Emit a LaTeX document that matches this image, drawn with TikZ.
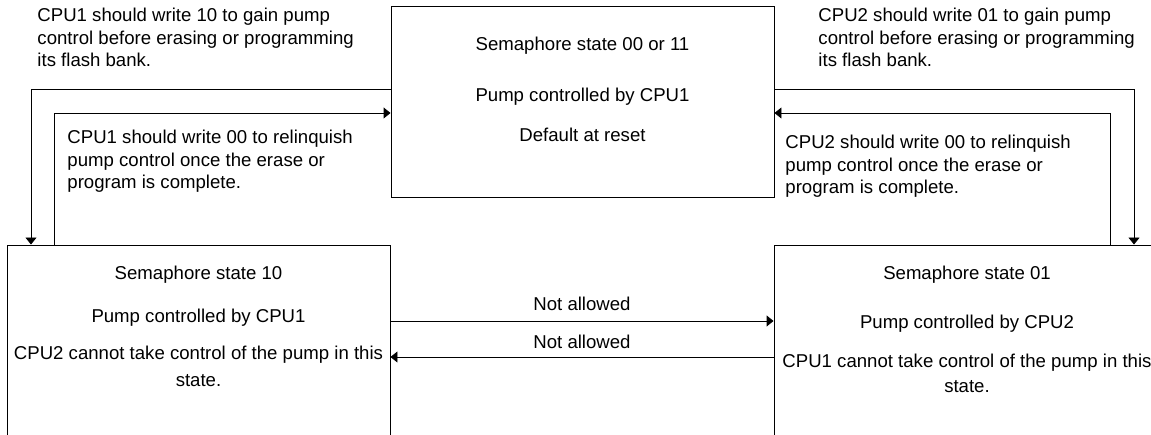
\documentclass[tikz,border=0pt]{standalone}
\usepackage{fontspec}
\setmainfont{Liberation Sans}
\usetikzlibrary{arrows.meta}
\begin{document}
\begin{tikzpicture}[x=1pt,y=-1pt,line width=0.9pt,>={Triangle[length=7pt,width=11pt]},
	state/.style={draw,minimum width=383pt,inner sep=0pt},
	txt/.style={font=\fontsize{18.6}{22.5}\selectfont,inner sep=0pt},
	note/.style={txt,align=left,anchor=base west}]
	\useasboundingbox (0,0) rectangle (1151,435);
	\clip (0,0) rectangle (1151,435);
	% the three states
	\node[state,minimum height=191pt] (s00) at (582.5,101.5) {};
	\node[state,minimum height=200pt] (s10) at (198.5,345) {};
	\node[state,minimum height=200pt] (s01) at (965.5,345) {};
	\node[txt,anchor=base] (s00a) at (582.5,51) {Semaphore state 00 or 11};
	\node[txt,anchor=base] (s00b) at (582.5,102) {Pump controlled by CPU1};
	\node[txt,anchor=base] (s00c) at (582.5,142) {Default at reset};
	\node[txt,anchor=base] (s10a) at (198.5,280) {Semaphore state 10};
	\node[txt,anchor=base] (s10b) at (198.5,323) {Pump controlled by CPU1};
	\node[txt,anchor=base] (s10c) at (198.5,360) {CPU2 cannot take control of the pump in this};
	\node[txt,anchor=base] (s10d) at (198.5,387) {state.};
	\node[txt,anchor=base] (s01a) at (967,280) {Semaphore state 01};
	\node[txt,anchor=base] (s01b) at (967,329) {Pump controlled by CPU2};
	\node[txt,anchor=base] (s01c) at (967,367) {CPU1 cannot take control of the pump in this};
	\node[txt,anchor=base] (s01d) at (967,392) {state.};
	% transitions
	\draw[->] ([yshift=12.5pt]s00.west) -| ([xshift=-167.5pt]s10.north);
	\draw[->] ([xshift=-144.5pt]s10.north) |- ([yshift=-11.5pt]s00.west);
	\draw[->] ([yshift=12.5pt]s00.east) -| ([xshift=168.5pt]s01.north);
	\draw[->] ([xshift=144.5pt]s01.north) |- ([yshift=-11.5pt]s00.east);
	\draw[->] ([yshift=24pt]s10.east) -- ([yshift=24pt]s01.west)
		node[txt,midway,anchor=base,yshift=10pt] (na1) {Not allowed};
	\draw[->] ([yshift=-12pt]s01.west) -- ([yshift=-12pt]s10.east)
		node[txt,midway,anchor=base,yshift=8pt] (na2) {Not allowed};
	% notes (base = last line)
	\node[note] (w10) at (37,67) {CPU1 should write 10 to gain pump\\control before erasing or programming\\its flash bank.};
	\node[note] (w01) at (818,67) {CPU2 should write 01 to gain pump\\control before erasing or programming\\its flash bank.};
	\node[note] (r1) at (67,189) {CPU1 should write 00 to relinquish\\pump control once the erase or\\program is complete.};
	\node[note] (r2) at (785,194) {CPU2 should write 00 to relinquish\\pump control once the erase or\\program is complete.};
\end{tikzpicture}
\end{document}
